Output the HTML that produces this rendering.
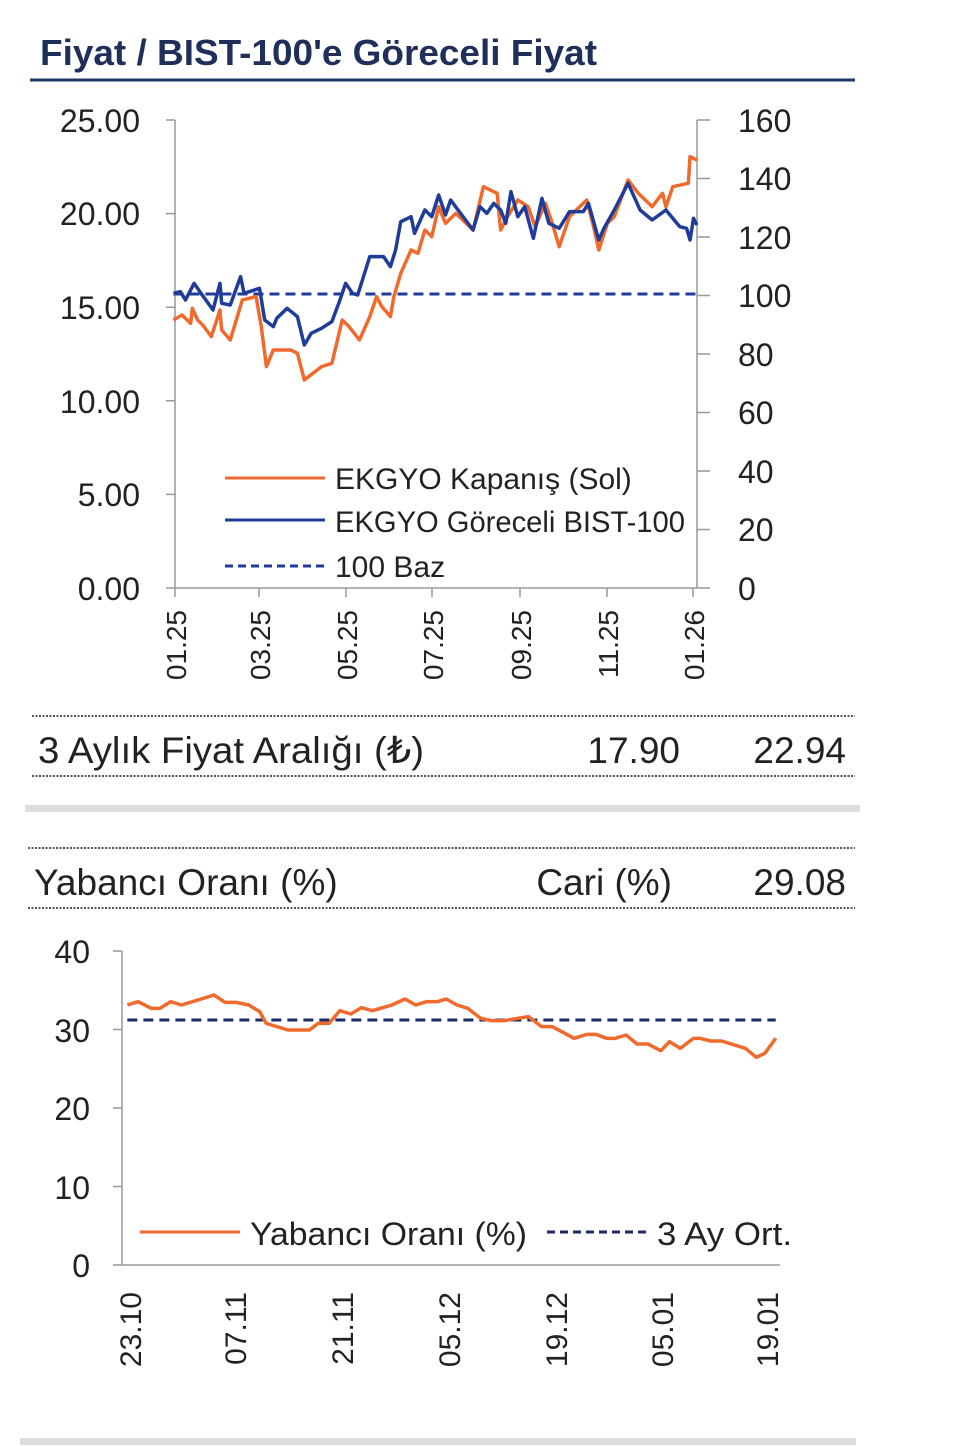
<!DOCTYPE html>
<html><head><meta charset="utf-8"><style>
body{margin:0;background:#fff;width:960px;height:1446px;overflow:hidden;font-family:"Liberation Sans",sans-serif}
svg{position:absolute;left:0;top:0}
</style></head><body>
<svg width="960" height="1446" xmlns="http://www.w3.org/2000/svg" font-family="Liberation Sans, DejaVu Sans, sans-serif">
<text x="40" y="65" font-size="36" font-weight="bold" fill="#1f2f5a" textLength="557" lengthAdjust="spacingAndGlyphs">Fiyat / BIST-100'e Göreceli Fiyat</text>
<line x1="30" y1="80" x2="855" y2="80" stroke="#1f3864" stroke-width="3"/>
<g stroke="#999" stroke-width="1.5">
<line x1="175" y1="120" x2="175" y2="588"/><line x1="175" y1="588" x2="697" y2="588"/>
<line x1="697" y1="120" x2="697" y2="588"/>
<line x1="166" y1="120" x2="175" y2="120"/><line x1="166" y1="213.6" x2="175" y2="213.6"/><line x1="166" y1="307.2" x2="175" y2="307.2"/><line x1="166" y1="400.8" x2="175" y2="400.8"/><line x1="166" y1="494.4" x2="175" y2="494.4"/><line x1="166" y1="588" x2="175" y2="588"/>
<line x1="697" y1="120" x2="710" y2="120"/><line x1="697" y1="178.5" x2="710" y2="178.5"/><line x1="697" y1="237" x2="710" y2="237"/><line x1="697" y1="295.5" x2="710" y2="295.5"/><line x1="697" y1="354" x2="710" y2="354"/><line x1="697" y1="412.5" x2="710" y2="412.5"/><line x1="697" y1="471" x2="710" y2="471"/><line x1="697" y1="529.5" x2="710" y2="529.5"/><line x1="697" y1="588" x2="710" y2="588"/>
<line x1="175" y1="588" x2="175" y2="597"/><line x1="259" y1="588" x2="259" y2="597"/><line x1="346" y1="588" x2="346" y2="597"/><line x1="432" y1="588" x2="432" y2="597"/><line x1="520" y1="588" x2="520" y2="597"/><line x1="607" y1="588" x2="607" y2="597"/><line x1="693" y1="588" x2="693" y2="597"/>
</g>
<g font-size="32" fill="#222" text-anchor="end">
<text x="140" y="132">25.00</text><text x="140" y="225">20.00</text><text x="140" y="319">15.00</text><text x="140" y="413">10.00</text><text x="140" y="506">5.00</text><text x="140" y="600">0.00</text>
</g>
<g font-size="32" fill="#222">
<text x="738" y="132">160</text><text x="738" y="190">140</text><text x="738" y="249">120</text><text x="738" y="307">100</text><text x="738" y="366">80</text><text x="738" y="424">60</text><text x="738" y="483">40</text><text x="738" y="541">20</text><text x="738" y="600">0</text>
</g>
<g font-size="28" fill="#222" text-anchor="end">
<text transform="translate(186,610) rotate(-90)">01.25</text>
<text transform="translate(270,610) rotate(-90)">03.25</text>
<text transform="translate(357,610) rotate(-90)">05.25</text>
<text transform="translate(443,610) rotate(-90)">07.25</text>
<text transform="translate(531,610) rotate(-90)">09.25</text>
<text transform="translate(618,610) rotate(-90)">11.25</text>
<text transform="translate(704,610) rotate(-90)">01.26</text>
</g>
<g transform="translate(170,140) scale(0.3444,0.3333)" fill="none" stroke-linejoin="round">
<polyline vector-effect="non-scaling-stroke" stroke="#1f3c99" stroke-width="3" stroke-dasharray="10,6" points="10,462 1530,462"/>
<polyline vector-effect="non-scaling-stroke" stroke="#ef6a2c" stroke-width="3.5" points="10,540 35,525 60,550 65,505 80,540 95,555 120,590 145,510 150,570 175,600 210,480 250,470 265,560 280,680 300,630 350,630 370,640 390,720 440,680 470,670 500,540 520,560 550,600 580,530 600,470 615,500 640,530 650,470 670,400 700,330 720,340 740,270 760,290 780,200 800,250 830,220 860,250 880,270 910,140 950,160 960,270 980,230 1010,180 1040,200 1060,260 1090,190 1110,250 1130,320 1160,230 1210,180 1230,260 1245,330 1270,250 1290,230 1330,120 1360,160 1400,200 1430,160 1440,200 1460,140 1505,130 1510,50 1530,60"/>
<polyline vector-effect="non-scaling-stroke" stroke="#1f3c99" stroke-width="3.5" points="10,460 30,455 45,480 70,430 90,460 125,510 145,430 150,490 175,495 205,410 215,460 260,445 275,540 300,560 310,535 340,505 370,530 390,615 410,580 440,565 470,545 490,490 510,430 530,460 545,465 580,350 620,350 640,380 655,330 670,245 700,230 710,280 740,210 760,230 780,165 800,225 815,180 840,215 880,270 900,200 920,220 940,190 960,210 975,250 990,155 1010,230 1030,200 1055,295 1080,175 1100,250 1130,265 1160,215 1200,215 1215,190 1245,300 1260,265 1290,210 1330,130 1365,210 1400,240 1440,210 1480,260 1500,265 1510,300 1520,235 1530,255"/>
</g>
<line x1="225" y1="478" x2="325" y2="478" stroke="#ef6a2c" stroke-width="3"/>
<line x1="225" y1="520" x2="325" y2="520" stroke="#1f3c99" stroke-width="3"/>
<line x1="225" y1="566" x2="325" y2="566" stroke="#1f3c99" stroke-width="3" stroke-dasharray="8,5"/>
<g font-size="30" fill="#222">
<text x="335" y="489">EKGYO Kapanış (Sol)</text>
<text x="335" y="532" textLength="350" lengthAdjust="spacingAndGlyphs">EKGYO Göreceli BIST-100</text>
<text x="335" y="577">100 Baz</text>
</g>
<g stroke="#555" stroke-width="2" stroke-dasharray="2,1.5">
<line x1="32" y1="716" x2="855" y2="716"/><line x1="32" y1="776" x2="855" y2="776"/>
<line x1="28" y1="848" x2="855" y2="848"/><line x1="28" y1="908" x2="855" y2="908"/>
</g>
<g font-size="37" fill="#222">
<text x="38" y="763" textLength="386" lengthAdjust="spacingAndGlyphs">3 Aylık Fiyat Aralığı (₺)</text>
<text x="680" y="763" text-anchor="end">17.90</text>
<text x="846" y="763" text-anchor="end">22.94</text>
<text x="34" y="895">Yabancı Oranı (%)</text>
<text x="672" y="895" text-anchor="end">Cari (%)</text>
<text x="846" y="895" text-anchor="end">29.08</text>
</g>
<rect x="25" y="805" width="835" height="7" fill="#ddd"/>
<rect x="20" y="1438" width="836" height="7" fill="#ddd"/>
<g stroke="#999" stroke-width="1.5">
<line x1="122" y1="951" x2="122" y2="1265"/><line x1="122" y1="1265" x2="780" y2="1265"/>
<line x1="113" y1="951" x2="122" y2="951"/><line x1="113" y1="1029.5" x2="122" y2="1029.5"/><line x1="113" y1="1108" x2="122" y2="1108"/><line x1="113" y1="1186.5" x2="122" y2="1186.5"/><line x1="113" y1="1265" x2="122" y2="1265"/>
</g>
<g font-size="32" fill="#222" text-anchor="end">
<text x="90" y="963">40</text><text x="90" y="1042">30</text><text x="90" y="1120">20</text><text x="90" y="1199">10</text><text x="90" y="1277">0</text>
</g>
<g font-size="30" fill="#222" text-anchor="end">
<text transform="translate(141,1292) rotate(-90)">23.10</text>
<text transform="translate(246,1292) rotate(-90)">07.11</text>
<text transform="translate(353,1292) rotate(-90)">21.11</text>
<text transform="translate(460,1292) rotate(-90)">05.12</text>
<text transform="translate(567,1292) rotate(-90)">19.12</text>
<text transform="translate(673,1292) rotate(-90)">05.01</text>
<text transform="translate(778,1292) rotate(-90)">19.01</text>
</g>
<g transform="translate(110,970) scale(0.4337,0.3333)" fill="none" stroke-linejoin="round">
<polyline vector-effect="non-scaling-stroke" stroke="#1a2a66" stroke-width="3" stroke-dasharray="10,6" points="40,150 1535,150"/>
<polyline vector-effect="non-scaling-stroke" stroke="#ef6a2c" stroke-width="3.5" points="40,105 65,95 95,115 115,115 140,95 165,105 190,95 240,75 265,97 290,97 320,105 345,125 360,160 410,180 460,180 480,160 505,160 530,122 555,132 580,113 605,122 650,105 680,87 705,105 730,95 755,95 775,87 800,105 825,115 855,145 880,152 910,152 940,145 965,140 995,170 1020,170 1070,205 1100,193 1120,193 1145,205 1165,205 1190,195 1215,222 1240,222 1270,242 1290,215 1315,235 1345,205 1360,205 1385,213 1410,213 1440,225 1465,235 1490,262 1510,250 1535,205"/>
</g>
<line x1="140" y1="1232" x2="240" y2="1232" stroke="#ef6a2c" stroke-width="3"/>
<line x1="547" y1="1232" x2="647" y2="1232" stroke="#1a2a66" stroke-width="3" stroke-dasharray="8,5"/>
<g font-size="32" fill="#222">
<text x="250" y="1245" textLength="277" lengthAdjust="spacingAndGlyphs">Yabancı Oranı (%)</text>
<text x="657" y="1245" textLength="135" lengthAdjust="spacingAndGlyphs">3 Ay Ort.</text>
</g>
</svg>
</body></html>
